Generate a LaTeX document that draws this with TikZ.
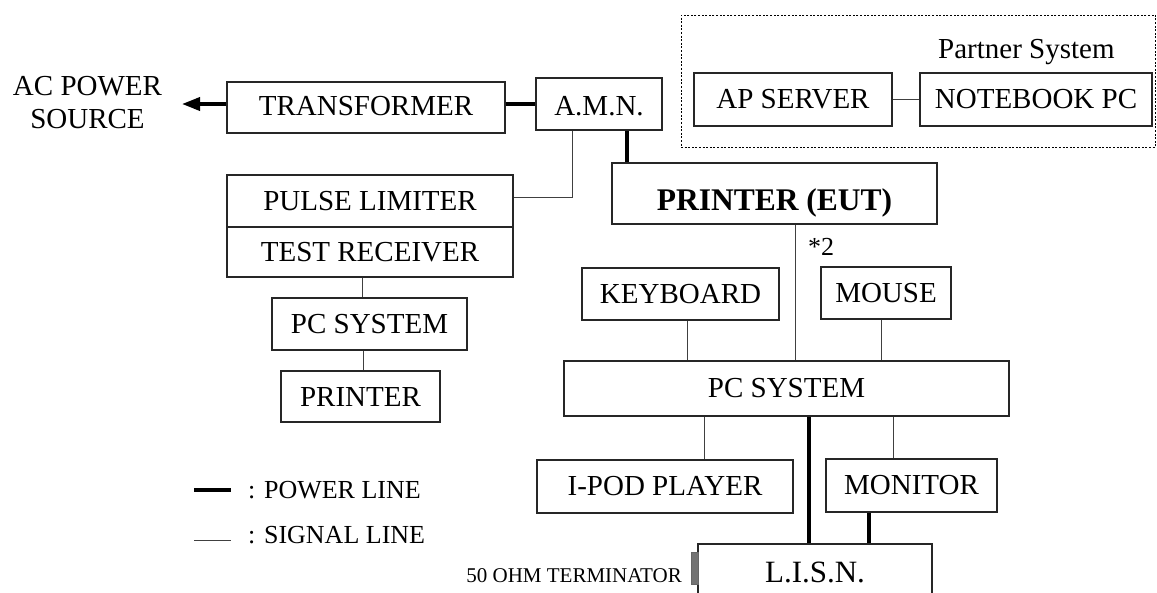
\documentclass[tikz,border=0pt]{standalone}
\usepackage{fontspec}
\setmainfont{Liberation Serif}
\usetikzlibrary{arrows.meta,calc}
\begin{document}
\begin{tikzpicture}[x=1pt,y=-1pt,
  bx/.style={draw=black!85, line width=1.1pt, inner sep=0pt, font=\fontsize{29}{33}\selectfont},
  pw/.style={line width=3.6pt},
  sg/.style={line width=1pt, draw=black!75},
  lbl/.style={inner sep=0pt, font=\fontsize{29}{33}\selectfont},
  small/.style={inner sep=0pt, font=\fontsize{26}{30}\selectfont}]
\useasboundingbox (0,0) rectangle (1157,592);
\clip (0,0) rectangle (1157,592);
% partner system frame
\node[draw, line width=0.9pt, dash pattern=on 2pt off 1.6pt, minimum width=474.5pt, minimum height=132pt, inner sep=0pt] (ps) at (918.25,81) {};
\node[lbl, anchor=base west] (pslabel) at (938,58) {Partner System};
% boxes
\node[bx, minimum width=278pt, minimum height=51pt, text height=15pt, text depth=0pt] (tr) at (366,107.5) {TRANSFORMER};
\node[bx, minimum width=126pt, minimum height=52pt, text height=23pt, text depth=0pt] (amn) at (599,104) {A.M.N.};
\node[bx, minimum width=198pt, minimum height=53pt] (aps) at (793,99.5) {AP SERVER};
\node[bx, minimum width=232pt, minimum height=53pt] (nb) at (1036,99.5) {NOTEBOOK PC};
\node[bx, minimum width=286pt, minimum height=52pt] (pl) at (370,201) {PULSE LIMITER};
\node[bx, minimum width=286pt, minimum height=50pt] (trc) at (370,252) {TEST RECEIVER};
\node[bx, minimum width=195pt, minimum height=52pt] (pcl) at (369.5,324) {PC SYSTEM};
\node[bx, minimum width=159pt, minimum height=51pt] (prl) at (360.5,396.5) {PRINTER};
\node[bx, minimum width=325pt, minimum height=61pt, text height=33pt, text depth=0pt, font=\fontsize{31.5}{35}\selectfont\bfseries] (eut) at (774.5,193.5) {PRINTER (EUT)};
\node[bx, minimum width=197pt, minimum height=52pt] (kb) at (680.5,294) {KEYBOARD};
\node[bx, minimum width=130pt, minimum height=52pt] (ms) at (886,293) {MOUSE};
\node[bx, minimum width=445pt, minimum height=55pt] (pcb) at (786.5,388.5) {PC SYSTEM};
\node[bx, minimum width=256pt, minimum height=53pt] (ipod) at (665,486.5) {I-POD PLAYER};
\node[bx, minimum width=171pt, minimum height=53pt] (mon) at (911.5,485.5) {MONITOR};
\node[bx, minimum width=234pt, minimum height=56pt, font=\fontsize{31}{35}\selectfont] (lisn) at (815,572) {L.I.S.N.};
\node[draw=black!60, fill=black!55, line width=0.8pt, minimum width=7pt, minimum height=32pt, inner sep=0pt] (term) at (694.5,568) {};
% free labels
\node[lbl, anchor=base] (ac1) at (87.5,95) {AC POWER};
\node[lbl, anchor=base] (ac2) at (87.5,128) {SOURCE};
\node[small, anchor=base west] (star) at (808,255) {*2};
\node[inner sep=0pt, anchor=base east, font=\fontsize{21}{24}\selectfont] (termlbl) at (682,582) {50 OHM TERMINATOR};
\node[small, anchor=base west] (lgp) at (248,498) {: POWER LINE};
\node[small, anchor=base west] (lgs) at (248,543) {: SIGNAL LINE};
\coordinate (lp1) at (194,490);
\coordinate (lp2) at (231,490);
\coordinate (ls1) at (194,540);
\coordinate (ls2) at (231,540);
\coordinate (tipc) at (182,104);
% power lines
\draw[pw,-{Triangle[length=18pt,width=13pt]}] (tipc -| tr.west) -- (tipc);
\draw[pw] (amn.west -| tr.east) -- (amn.west);
\draw[pw] ([xshift=28pt]amn.south) -- ([xshift=28pt]amn.south |- eut.north);
\draw[pw] ([xshift=-6pt]lisn.north |- pcb.south) -- ([xshift=-6pt]lisn.north);
\draw[pw] ([xshift=-42.5pt]mon.south) -- ([xshift=-42.5pt]mon.south |- lisn.north);
\draw[pw] (lp1) -- (lp2);
% signal lines
\draw[sg] ([xshift=-27pt]amn.south) |- ([yshift=4pt]pl.east);
\draw[sg] (aps.east) -- (nb.west);
\draw[sg] ([xshift=-7.5pt]pcl.north |- trc.south) -- ([xshift=-7.5pt]pcl.north);
\draw[sg] ([xshift=2.5pt]prl.north |- pcl.south) -- ([xshift=2.5pt]prl.north);
\draw[sg] ([xshift=20.5pt]eut.south) -- ([xshift=20.5pt]eut.south |- pcb.north);
\draw[sg] ([xshift=6.5pt]kb.south) -- ([xshift=6.5pt]kb.south |- pcb.north);
\draw[sg] ([xshift=-5pt]ms.south) -- ([xshift=-5pt]ms.south |- pcb.north);
\draw[sg] ([xshift=39pt]ipod.north |- pcb.south) -- ([xshift=39pt]ipod.north);
\draw[sg] ([xshift=-18.5pt]mon.north |- pcb.south) -- ([xshift=-18.5pt]mon.north);
\draw[sg] (ls1) -- (ls2);
\end{tikzpicture}
\end{document}
